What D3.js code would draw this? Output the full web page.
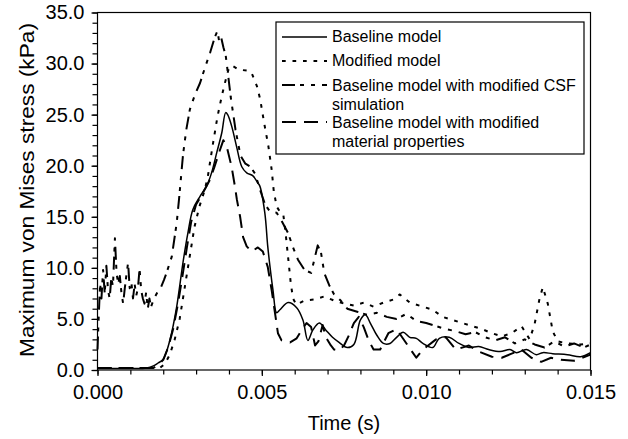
<!DOCTYPE html>
<html>
<head>
<meta charset="utf-8">
<script src="https://cdn.jsdelivr.net/npm/d3@7/dist/d3.min.js"></script>
<style>
  html, body { margin: 0; padding: 0; background: #fff; }
  svg { display: block; font-family: "Liberation Sans", Arial, sans-serif; }
</style>
</head>
<body>
<svg id="chart" width="628" height="439"></svg>
<script>
// time in milliseconds, stress in kPa
const baselineData = [[0,0.15],[0.5,0.15],[1.0,0.15],[1.5,0.2],[1.7,0.4],[1.85,0.7],[1.99,1.0],[2.1,1.8],[2.2,2.9],[2.3,4.3],[2.41,6.2],[2.5,8.2],[2.6,10.5],[2.75,13.4],[2.9,15.7],[3.12,17.0],[3.32,18.0],[3.47,19.3],[3.63,21.3],[3.78,23.2],[3.9,25.2],[3.96,25.0],[4.08,23.9],[4.23,21.9],[4.39,19.9],[4.54,19.3],[4.73,19.0],[4.88,18.3],[4.94,18.0],[5.09,15.4],[5.18,12.1],[5.26,9.8],[5.34,7.8],[5.45,5.6],[5.55,5.9],[5.8,6.6],[6.06,6.1],[6.25,4.9],[6.4,2.9],[6.55,3.9],[6.75,4.6],[6.95,3.9],[7.15,3.2],[7.35,2.7],[7.6,2.2],[7.8,2.5],[8.0,4.9],[8.15,5.4],[8.3,4.6],[8.5,3.4],[8.7,2.6],[8.9,2.6],[9.1,3.2],[9.3,3.7],[9.5,3.2],[9.7,3.1],[9.9,2.6],[10.2,2.2],[10.4,3.1],[10.7,3.2],[11.0,2.6],[11.3,2.2],[11.6,2.3],[11.9,2.0],[12.25,1.8],[12.55,2.0],[12.75,1.7],[13.05,2.0],[13.35,1.5],[13.55,1.7],[13.85,1.6],[14.3,1.5],[14.7,1.3],[15.0,1.7]];

const modifiedData = [[0,0.2],[1.0,0.2],[1.9,0.2],[2.05,0.6],[2.2,1.5],[2.35,3.0],[2.5,5.0],[2.65,8.0],[2.8,11.0],[2.95,14.0],[3.1,16.0],[3.25,17.5],[3.35,18.8],[3.5,21.9],[3.65,24.8],[3.78,26.8],[3.9,28.4],[4.0,29.6],[4.1,29.8],[4.3,29.4],[4.6,29.3],[4.7,29.0],[4.85,27.8],[4.95,26.5],[5.07,24.2],[5.2,21.9],[5.3,19.6],[5.36,17.6],[5.45,16.0],[5.55,15.5],[5.65,15.3],[5.72,13.5],[5.8,11.0],[5.88,8.5],[5.95,7.0],[6.05,6.4],[6.3,6.8],[6.6,6.9],[6.9,7.2],[7.2,6.8],[7.5,6.5],[7.8,6.3],[8.1,6.6],[8.4,6.2],[8.7,6.6],[9.0,6.9],[9.2,7.4],[9.5,6.6],[9.9,6.2],[10.2,5.9],[10.5,5.2],[10.8,4.9],[11.1,4.6],[11.4,4.3],[11.7,4.0],[12.0,3.6],[12.3,3.3],[12.6,3.6],[12.9,4.3],[13.15,3.0],[13.3,4.5],[13.45,7.0],[13.55,8.1],[13.7,6.5],[13.85,3.8],[14.0,2.8],[14.3,2.6],[14.7,2.5],[15.0,2.6]];

const csfData = [[0,2.0],[0.04,5.5],[0.08,8.5],[0.12,7.0],[0.17,9.8],[0.22,7.5],[0.27,10.2],[0.32,7.8],[0.37,7.0],[0.42,9.0],[0.47,8.2],[0.53,12.9],[0.58,9.5],[0.63,8.4],[0.68,9.2],[0.73,7.5],[0.78,6.5],[0.83,8.0],[0.88,9.3],[0.93,10.5],[0.98,8.0],[1.03,8.6],[1.08,7.0],[1.13,8.4],[1.18,7.3],[1.23,8.0],[1.28,9.9],[1.33,7.8],[1.38,7.0],[1.43,6.5],[1.48,7.6],[1.53,6.0],[1.58,7.0],[1.63,6.2],[1.72,7.0],[1.82,7.6],[1.92,8.0],[2.02,8.8],[2.1,9.5],[2.26,11.1],[2.41,14.4],[2.48,16.7],[2.6,21.0],[2.7,23.5],[2.81,25.5],[2.97,27.0],[3.12,28.1],[3.28,29.7],[3.43,31.1],[3.57,32.6],[3.65,33.2],[3.7,32.2],[3.76,32.6],[3.83,31.6],[3.9,30.8],[3.97,29.0],[4.05,26.8],[4.2,23.5],[4.35,21.0],[4.5,20.2],[4.65,19.9],[4.8,19.2],[4.95,17.6],[5.1,16.2],[5.25,15.5],[5.45,15.4],[5.6,14.6],[5.8,13.4],[5.95,12.0],[6.1,10.8],[6.3,9.8],[6.5,9.5],[6.7,12.2],[6.8,11.5],[6.9,9.5],[7.05,8.3],[7.2,7.4],[7.4,6.8],[7.6,6.0],[7.9,5.7],[8.2,5.4],[8.5,5.6],[8.8,5.2],[9.1,5.0],[9.4,5.5],[9.7,4.8],[10.0,4.6],[10.3,4.3],[10.6,4.0],[10.9,3.8],[11.2,3.5],[11.5,3.7],[11.8,3.2],[12.1,2.9],[12.4,3.2],[12.7,2.6],[13.0,3.0],[13.3,2.5],[13.6,2.2],[13.9,2.8],[14.2,2.3],[14.5,2.6],[14.8,2.2],[15.0,2.5]];

const materialData = [[0,0.2],[1.0,0.2],[1.7,0.2],[1.85,0.5],[2.0,1.0],[2.15,2.2],[2.3,4.0],[2.45,6.5],[2.6,9.5],[2.72,12.0],[2.85,14.5],[3.0,16.2],[3.2,17.3],[3.4,18.5],[3.55,19.8],[3.7,21.3],[3.83,22.5],[3.93,21.9],[4.08,19.9],[4.18,18.0],[4.24,16.7],[4.34,15.0],[4.43,13.0],[4.54,12.1],[4.69,11.6],[4.88,12.0],[5.03,11.6],[5.18,10.1],[5.3,7.8],[5.4,5.6],[5.49,3.6],[5.6,2.9],[5.86,2.7],[6.06,3.1],[6.21,3.9],[6.36,4.6],[6.5,4.2],[6.62,2.4],[6.72,2.8],[6.85,4.4],[6.95,3.2],[7.1,2.4],[7.2,2.0],[7.35,1.9],[7.5,2.4],[7.65,3.4],[7.8,4.6],[7.95,5.2],[8.1,4.2],[8.25,2.9],[8.4,2.0],[8.6,2.0],[8.85,3.6],[9.1,4.0],[9.4,2.6],[9.7,1.2],[9.9,2.0],[10.3,3.0],[10.6,3.2],[10.9,2.0],[11.3,2.4],[11.6,1.8],[12.0,1.3],[12.3,1.2],[12.6,1.6],[12.9,2.0],[13.2,1.2],[13.5,0.8],[13.8,1.2],[14.1,1.0],[14.5,0.9],[15.0,1.5]];

const seriesNames = ["Baseline model", "Modified model", "Baseline model with modified CSF|simulation", "Baseline model with modified|material properties"];
const xTickValues = [0, 0.005, 0.010, 0.015];
const yTickValues = [0, 5, 10, 15, 20, 25, 30, 35];
const xTitle = "Time (s)";
const yTitle = "Maximum von Mises stress (kPa)";

const svg = d3.select("#chart");
const m = {left: 97.5, right: 590.5, top: 12.5, bottom: 370};
const x = d3.scaleLinear().domain([0, 0.015]).range([m.left, m.right]);
const y = d3.scaleLinear().domain([0, 35]).range([m.bottom, m.top]);

// frame
svg.append("rect").attr("x", m.left).attr("y", m.top)
  .attr("width", m.right - m.left).attr("height", m.bottom - m.top)
  .attr("fill", "none").attr("stroke", "#000").attr("stroke-width", 1.2);

// x axis
const xMinor = d3.range(0, 16).map(d => d / 1000);
const xAxisMinor = d3.axisBottom(x).tickValues(xMinor).tickSize(4.5).tickFormat("");
const xAxis = d3.axisBottom(x).tickValues(xTickValues).tickSize(6).tickPadding(9).tickFormat(d3.format(".3f"));
const gxm = svg.append("g").attr("transform", `translate(0,${m.bottom})`).call(xAxisMinor);
const gx = svg.append("g").attr("transform", `translate(0,${m.bottom})`).call(xAxis);
[gx, gxm].forEach(g => { g.select(".domain").remove(); g.selectAll("line").attr("stroke", "#000").attr("stroke-width", 1.2); });
gx.selectAll("text").attr("font-size", 20).attr("fill", "#000").attr("font-family", '"Liberation Sans", Arial, sans-serif');

// y axis
const yMinor = d3.range(0, 36);
const yAxisMinor = d3.axisLeft(y).tickValues(yMinor).tickSize(5).tickFormat("");
const yAxis = d3.axisLeft(y).tickValues(yTickValues).tickSize(6).tickPadding(7).tickFormat(d3.format(".1f"));
const gym = svg.append("g").attr("transform", `translate(${m.left},0)`).call(yAxisMinor);
const gy = svg.append("g").attr("transform", `translate(${m.left},0)`).call(yAxis);
[gy, gym].forEach(g => { g.select(".domain").remove(); g.selectAll("line").attr("stroke", "#000").attr("stroke-width", 1.2); });
gy.selectAll("text").attr("font-size", 20).attr("fill", "#000").attr("font-family", '"Liberation Sans", Arial, sans-serif');

// titles
svg.append("text").attr("x", (m.left + m.right) / 2).attr("y", 430)
  .attr("text-anchor", "middle").attr("font-size", 20).text(xTitle);
svg.append("text").attr("transform", `translate(34,190) rotate(-90)`)
  .attr("text-anchor", "middle").attr("font-size", 20)
  .attr("textLength", 334).attr("lengthAdjust", "spacingAndGlyphs").text(yTitle);

// lines
const styles = [
  {dash: null, width: 1.5},
  {dash: "3.7,6.8", width: 2},
  {dash: "13,5,4,7,4,7", width: 2},
  {dash: "14,8", width: 2}
];
const datasets = [baselineData, modifiedData, csfData, materialData];
const line = d3.line().x(d => x(d[0] / 1000)).y(d => y(d[1]));
const lineSmooth = d3.line().x(d => x(d[0] / 1000)).y(d => y(d[1])).curve(d3.curveCatmullRom);
const plot = svg.append("g");
datasets.forEach((data, i) => {
  plot.append("path").datum(data)
    .attr("d", i === 0 ? lineSmooth : line)
    .attr("fill", "none").attr("stroke", "#000")
    .attr("stroke-width", styles[i].width)
    .attr("stroke-dasharray", styles[i].dash)
    .attr("stroke-linejoin", "round");
});

// legend
const lg = svg.append("g");
lg.append("rect").attr("x", 276).attr("y", 22).attr("width", 308).attr("height", 132)
  .attr("fill", "#fff").attr("stroke", "#000").attr("stroke-width", 1.2);
const legendRows = [{ly: 37, ty: [42]}, {ly: 61, ty: [66]}, {ly: 85, ty: [91, 110]}, {ly: 122, ty: [128, 147]}];
seriesNames.forEach((name, i) => {
  const r = legendRows[i];
  lg.append("line").attr("x1", 282).attr("x2", 327).attr("y1", r.ly).attr("y2", r.ly)
    .attr("stroke", "#000").attr("stroke-width", styles[i].width)
    .attr("stroke-dasharray", styles[i].dash);
  name.split("|").forEach((part, j) => {
    lg.append("text").attr("x", 332).attr("y", r.ty[j]).attr("font-size", 16).text(part);
  });
});
</script>
</body>
</html>
